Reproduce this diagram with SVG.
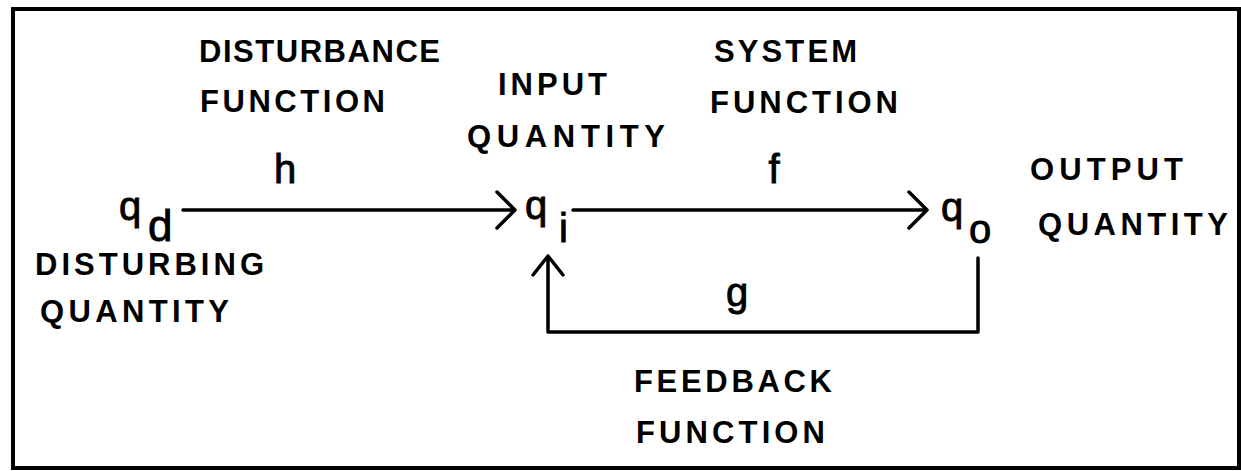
<svg xmlns="http://www.w3.org/2000/svg" width="1241" height="471" viewBox="0 0 1241 471">
<style>
.lbl{font-family:"Liberation Sans",Arial,sans-serif;font-size:31px;font-weight:bold;fill:#000}
.var{font-family:"Liberation Sans",Arial,sans-serif;font-size:40px;fill:#000;stroke:#000;stroke-width:0.9}
.sub{font-family:"Liberation Sans",Arial,sans-serif;font-size:40px;fill:#000;stroke:#000;stroke-width:0.9}
.ln{fill:none;stroke:#000;stroke-width:3.5;stroke-linecap:round;stroke-linejoin:round}
</style>
<rect x="0" y="0" width="1241" height="471" fill="#fff"/>
<rect x="13" y="9" width="1226" height="459" fill="none" stroke="#000" stroke-width="4"/>
<g id="connectors">
<path class="ln" d="M183,210 L515,210 M497,192 L515,210 L497,228"/>
<path class="ln" d="M573,210 L927,210 M909,192 L927,210 L909,228"/>
<path class="ln" d="M978,258 L978,332 L548,332 L548,256 M533,275 L548,256 L563,275"/>
</g>
<g id="label-h"><text class="var" x="285" y="183" text-anchor="middle">h</text></g>
<g id="label-f"><text class="var" x="774" y="183" text-anchor="middle">f</text></g>
<g id="label-g"><text class="var" x="737" y="306" text-anchor="middle">g</text></g>
<g id="node-qd"><text class="var" x="119" y="220">q</text><text class="sub" x="148" y="241" style="font-size:44px">d</text></g>
<g id="node-qi"><text class="var" x="525" y="219">q</text><text class="sub" x="559" y="242">i</text></g>
<g id="node-qo"><text class="var" x="941" y="221">q</text><text class="sub" x="969" y="243">o</text></g>
<g id="disturbance-function">
<text class="lbl" x="199" y="62" textLength="241" lengthAdjust="spacing">DISTURBANCE</text>
<text class="lbl" x="200" y="112" textLength="185" lengthAdjust="spacing">FUNCTION</text>
</g>
<g id="input-quantity">
<text class="lbl" x="498" y="95" textLength="109" lengthAdjust="spacing">INPUT</text>
<text class="lbl" x="467" y="147" textLength="198" lengthAdjust="spacing">QUANTITY</text>
</g>
<g id="system-function">
<text class="lbl" x="714" y="62" textLength="143" lengthAdjust="spacing">SYSTEM</text>
<text class="lbl" x="710" y="113" textLength="188" lengthAdjust="spacing">FUNCTION</text>
</g>
<g id="output-quantity">
<text class="lbl" x="1030" y="180" textLength="153" lengthAdjust="spacing">OUTPUT</text>
<text class="lbl" x="1038" y="235" textLength="190" lengthAdjust="spacing">QUANTITY</text>
</g>
<g id="disturbing-quantity">
<text class="lbl" x="35" y="275" textLength="229" lengthAdjust="spacing">DISTURBING</text>
<text class="lbl" x="40" y="322" textLength="189" lengthAdjust="spacing">QUANTITY</text>
</g>
<g id="feedback-function">
<text class="lbl" x="634" y="392" textLength="198" lengthAdjust="spacing">FEEDBACK</text>
<text class="lbl" x="636" y="443" textLength="189" lengthAdjust="spacing">FUNCTION</text>
</g>
</svg>
